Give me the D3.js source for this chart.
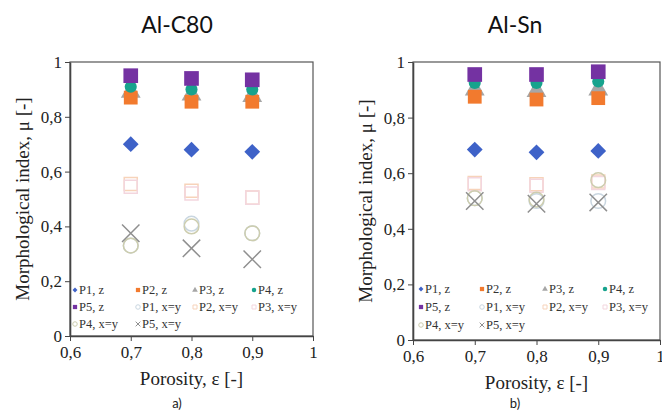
<!DOCTYPE html>
<html>
<head>
<meta charset="utf-8">
<script src="https://cdn.jsdelivr.net/npm/d3@7"></script>
<style>
  body { margin: 0; background: #fff; }
  svg { display: block; }
</style>
</head>
<body>
<svg id="chart" width="662" height="416"></svg>
<script>
// porosity values on the x axis
const porosity = [0.7, 0.8, 0.9];
const xTicks = [0.6, 0.7, 0.8, 0.9, 1];
const yTicks = [0, 0.2, 0.4, 0.6, 0.8, 1];

const seriesNames = ["P1, z", "P2, z", "P3, z", "P4, z", "P5, z",
                     "P1, x=y", "P2, x=y", "P3, x=y", "P4, x=y", "P5, x=y"];

// Al-C80 values, one row per series (same order as seriesNames)
const c80Values = [
  [0.70, 0.68, 0.672],
  [0.87, 0.855, 0.855],
  [0.89, 0.88, 0.875],
  [0.91, 0.90, 0.90],
  [0.95, 0.94, 0.935],
  [0.33, 0.41, 0.375],
  [0.555, 0.53, 0.505],
  [0.545, 0.52, 0.505],
  [0.33, 0.40, 0.375],
  [0.375, 0.32, 0.28]
];

// Al-Sn values
const snValues = [
  [0.685, 0.675, 0.68],
  [0.875, 0.865, 0.87],
  [0.90, 0.895, 0.90],
  [0.925, 0.925, 0.93],
  [0.955, 0.955, 0.965],
  [0.51, 0.50, 0.50],
  [0.565, 0.56, 0.57],
  [0.56, 0.555, 0.565],
  [0.51, 0.505, 0.575],
  [0.50, 0.49, 0.495]
];

// marker style per series (rot: rotate square into a diamond)
const styles = [
  {shape: d3.symbolSquare, rot: 45, size: 125, fill: "#3e62c8", stroke: "none", lsize: 12},
  {shape: d3.symbolSquare, size: 190, fill: "#f27a2e", stroke: "none", lsize: 18},
  {shape: d3.symbolTriangle, size: 170, fill: "#a6a6a6", stroke: "none", lsize: 14},
  {shape: d3.symbolCircle, size: 115, fill: "#17a38d", stroke: "none", lsize: 16},
  {shape: d3.symbolSquare, size: 215, fill: "#7432a2", stroke: "none", lsize: 18},
  {shape: d3.symbolCircle, size: 170, fill: "none", stroke: "#c9d6e0", lsize: 16},
  {shape: d3.symbolSquare, size: 170, fill: "none", stroke: "#f7d3ba", lsize: 16},
  {shape: d3.symbolSquare, size: 170, fill: "none", stroke: "#f3d6de", lsize: 16},
  {shape: d3.symbolCircle, size: 170, fill: "none", stroke: "#cdcdae", lsize: 16},
  {shape: d3.symbolX, size: 200, fill: "none", stroke: "#8f8f8f", lsize: 16}
];

const drawOrder = [5, 6, 7, 8, 9, 0, 2, 1, 3, 4];

const svg = d3.select("#chart");
const fmt = d => String(d).replace(".", ",");
const serif = "Liberation Serif, serif";

function panel(opt) {
  const x = d3.scaleLinear().domain([0.6, 1]).range([opt.left, opt.right]);
  const y = d3.scaleLinear().domain([0, 1]).range([opt.bottom, opt.top]);
  const g = svg.append("g");

  // frame
  g.append("rect")
    .attr("x", opt.left).attr("y", opt.top)
    .attr("width", opt.right - opt.left).attr("height", opt.bottom - opt.top)
    .attr("fill", "none").attr("stroke", "#555").attr("stroke-width", 1.2);

  const xAxis = g.append("g")
    .attr("transform", `translate(0,${opt.bottom})`)
    .call(d3.axisBottom(x).tickValues(xTicks).tickFormat(fmt).tickSize(5).tickSizeOuter(0));
  const yAxis = g.append("g")
    .attr("transform", `translate(${opt.left},0)`)
    .call(d3.axisLeft(y).tickValues(yTicks).tickFormat(fmt).tickSize(5).tickSizeOuter(0));
  [xAxis, yAxis].forEach(a => {
    a.select(".domain").attr("stroke", "#444").attr("stroke-width", 1.6);
    a.selectAll(".tick line").attr("stroke", "#444");
    a.selectAll(".tick text")
      .attr("font-family", serif)
      .attr("font-size", 17).attr("fill", "#222");
  });
  xAxis.selectAll(".tick text").attr("dy", "0.85em");

  // markers
  drawOrder.forEach(i => {
    const st = styles[i];
    g.append("g").selectAll("path")
      .data(porosity.map((p, k) => [p, opt.values[i][k]]))
      .join("path")
      .attr("transform", d => `translate(${x(d[0])},${y(d[1])}) rotate(${st.rot || 0})`)
      .attr("d", d3.symbol().type(st.shape).size(st.size))
      .attr("fill", st.fill)
      .attr("stroke", st.stroke)
      .attr("stroke-width", 1.5);
  });

  // legend
  const lg = g.append("g");
  seriesNames.forEach((name, i) => {
    const col = i % 4, row = Math.floor(i / 4);
    const lx = opt.legX[col], ly = opt.legY[row];
    const st = styles[i];
    lg.append("path")
      .attr("transform", `translate(${lx},${ly}) rotate(${st.rot || 0})`)
      .attr("d", d3.symbol().type(st.shape).size(st.lsize))
      .attr("fill", st.fill)
      .attr("stroke", st.stroke)
      .attr("stroke-width", 1);
    lg.append("text")
      .attr("x", lx + 4).attr("y", ly)
      .attr("dy", "0.35em")
      .attr("font-family", serif)
      .attr("font-size", 12.5)
      .attr("fill", "#333")
      .text(name);
  });

  const cx = (opt.left + opt.right) / 2;
  // title
  g.append("text")
    .attr("x", opt.titleX).attr("y", 33)
    .attr("text-anchor", "middle")
    .attr("font-family", "Lato, sans-serif")
    .attr("font-size", 23).attr("fill", "#111")
    .text(opt.title);
  // axis titles
  g.append("text")
    .attr("x", cx).attr("y", opt.bottom + 49)
    .attr("text-anchor", "middle")
    .attr("font-family", serif)
    .attr("font-size", 19).attr("fill", "#222")
    .text("Porosity, ε [-]");
  g.append("text")
    .attr("transform", `translate(${opt.yTitleX},${(opt.top + opt.bottom) / 2}) rotate(-90)`)
    .attr("text-anchor", "middle")
    .attr("font-family", serif)
    .attr("font-size", 19).attr("fill", "#222")
    .text("Morphological index, μ [-]");
  // sub label
  g.append("text")
    .attr("x", opt.titleX).attr("y", 408)
    .attr("text-anchor", "middle")
    .attr("font-family", "Lato, sans-serif")
    .attr("font-size", 13).attr("fill", "#222")
    .text(opt.sub);
}

panel({
  left: 70, right: 313, top: 62, bottom: 336,
  values: c80Values, title: "Al-C80", sub: "a)", titleX: 177, yTitleX: 29,
  legX: [75, 138, 195, 254], legY: [290, 307, 324]
});

panel({
  left: 413, right: 660, top: 62, bottom: 340,
  values: snValues, title: "Al-Sn", sub: "b)", titleX: 515, yTitleX: 372,
  legX: [421, 482, 545, 605], legY: [289, 307, 325]
});
</script>
</body>
</html>
